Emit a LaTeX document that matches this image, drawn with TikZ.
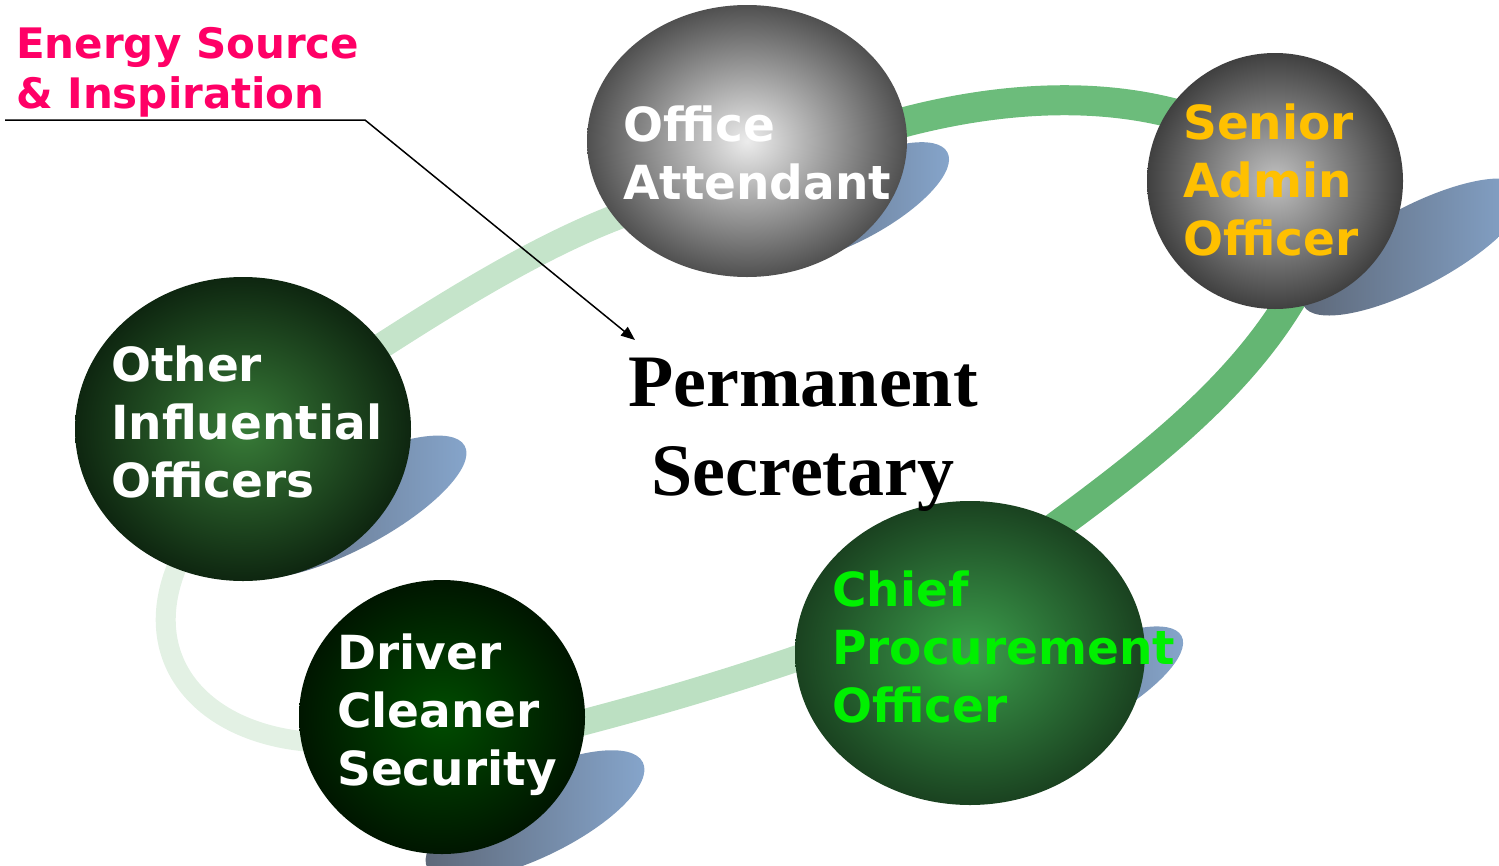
\documentclass[tikz,border=0pt]{standalone}
\usepackage{fontspec}
\usepackage{xcolor}
\usetikzlibrary{shapes.geometric,arrows.meta,backgrounds}
\newfontfamily\verdfont{DejaVu Sans}
\newfontfamily\timesfont{Liberation Serif}
\definecolor{energypink}{HTML}{FF0066}
\definecolor{srgold}{HTML}{FFC000}
\definecolor{cpgreen}{HTML}{00F000}
\definecolor{shadowdark}{HTML}{5C6676}
\definecolor{shadowlight}{HTML}{87A7CE}
\definecolor{bandA}{HTML}{E3F1E4}
\definecolor{bandB}{HTML}{C5E4CA}
\definecolor{bandC}{HTML}{6CBC7B}
\definecolor{bandD}{HTML}{64B673}
\definecolor{bandE}{HTML}{BCE0C2}
\tikzset{
	orb/.style={ellipse, shade, inner sep=0pt, outer sep=0pt},
	orbtext/.style={anchor=north west, inner sep=0pt, align=left, font=\verdfont\bfseries\fontsize{47}{58}\selectfont},
	halo/.style={left color=shadowdark, right color=shadowlight},
	band/.style={line cap=butt, shorten <=-20pt, shorten >=-20pt},
}

\begin{document}
\begin{tikzpicture}[x=1pt,y=1pt,yscale=-1,xscale=1]
	\useasboundingbox (0,0) rectangle (1499,865);
	\node[orb, minimum width=320pt, minimum height=272pt, inner color={rgb,255:red,236;green,236;blue,236}, outer color={rgb,255:red,80;green,80;blue,80}] (office) at (747,141) {};
	\node[orb, minimum width=256pt, minimum height=256pt, inner color={rgb,255:red,192;green,192;blue,192}, outer color={rgb,255:red,64;green,64;blue,64}] (senior) at (1275,181) {};
	\node[orb, minimum width=336pt, minimum height=304pt, inner color={rgb,255:red,56;green,124;blue,56}, outer color={rgb,255:red,14;green,38;blue,16}] (other) at (243,429) {};
	\node[orb, minimum width=286pt, minimum height=274pt, inner color={rgb,255:red,0;green,76;blue,0}, outer color={rgb,255:red,0;green,22;blue,0}] (driver) at (442,717) {};
	\node[orb, minimum width=350pt, minimum height=304pt, inner color={rgb,255:red,60;green,158;blue,76}, outer color={rgb,255:red,26;green,66;blue,32}] (chief) at (970,653) {};
	\begin{scope}[on background layer]
	\draw[band, line width=20pt, draw=bandA] (driver.190) .. controls (200,738) and (130,655) .. (other.244);
	\draw[band, line width=26pt, draw=bandB] (other.31) .. controls (460,295) and (550,240) .. (office.210);
	\draw[band, line width=30pt, draw=bandC] (office.7) .. controls (980,100) and (1090,88) .. (senior.147);
	\draw[band, line width=30pt, draw=bandD] (senior.275) .. controls (1240,390) and (1140,465) .. (chief.55);
	\draw[band, line width=26pt, draw=bandE] (chief.182) .. controls (720,685) and (650,705) .. (driver.358);
	\shade[halo] (852,203) ellipse [x radius=108, y radius=38, rotate=-28];
	\shade[halo] (1414,247) ellipse [x radius=125, y radius=40, rotate=-28];
	\shade[halo] (350,507) ellipse [x radius=130, y radius=42, rotate=-28];
	\shade[halo] (535,815) ellipse [x radius=120, y radius=42, rotate=-26];
	\shade[halo] (1080,690) ellipse [x radius=115, y radius=38, rotate=-28];
	\end{scope}
	\node[orbtext, text=white] (officetext) at (623,106) {Office\\Attendant};
	\node[orbtext, text=srgold] (seniortext) at (1183,104) {Senior\\Admin\\Officer};
	\node[orbtext, text=white] (othertext) at (111,346) {Other\\Influential\\Officers};
	\node[orbtext, text=white] (drivertext) at (337,634) {Driver\\Cleaner\\Security};
	\node[orbtext, text=cpgreen] (chieftext) at (832,571) {Chief\\Procurement\\Officer};
	\node[anchor=north west, inner sep=0pt, align=left, text=energypink, font=\verdfont\bfseries\fontsize{42}{50}\selectfont] (energy) at (16,27) {Energy Source\\\& Inspiration};
	\node[anchor=north, inner sep=0pt, align=center, font=\timesfont\bfseries\fontsize{74}{89}\selectfont] (ps) at (803,358) {Permanent\\Secretary};
	\coordinate (tail) at (5,120);
	\coordinate (knee) at (365,120);
	\coordinate (tip) at (635,340);
	\draw[line width=1.5pt, -{Triangle[length=14pt, width=11pt]}] (tail) -- (knee) -- (tip);
\end{tikzpicture}
\end{document}
